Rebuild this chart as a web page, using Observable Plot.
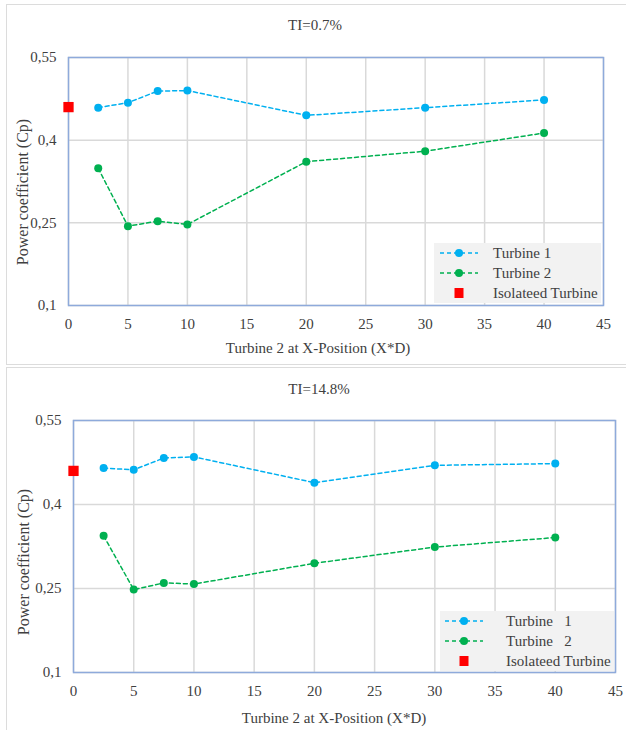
<!DOCTYPE html>
<html>
<head>
<meta charset="utf-8">
<script src="https://cdn.jsdelivr.net/npm/d3@7"></script>
<script src="https://cdn.jsdelivr.net/npm/@observablehq/plot@0.6"></script>
<style>
  html, body { margin: 0; padding: 0; background: #fff; overflow: hidden; }
  #root { position: relative; width: 626px; height: 730px; overflow: hidden; font-family: 'Liberation Serif', serif; color: #404040; }
  #root div, #root span, #root text, #root svg { font-family: 'Liberation Serif', serif; }
  .panel { position: absolute; border: 1.5px solid #dcdcdc; box-sizing: border-box; }
  .abs { position: absolute; white-space: pre; }
  .title { font-size: 15px; transform: translate(-50%, -50%); }
  .xlab { font-size: 15px; transform: translate(-50%, -50%); }
  .ylab { font-size: 16px; transform: translate(-50%, -50%) rotate(-90deg); }
  .legend { position: absolute; background: #f2f2f2; }
  .lrow { position: absolute; left: 0; height: 20px; width: 100%; font-size: 15px; }
  .lrow svg { position: absolute; left: 0; top: 0; }
  .lrow span { position: absolute; top: 50%; transform: translateY(-50%); white-space: pre; }
  svg { overflow: visible; }
</style>
</head>
<body>
<div id="root"></div>
<script>
// ---------- data ----------
const xPositions = [2.5, 5, 7.5, 10, 20, 30, 40];
const turbine1_TI07 = [0.459, 0.468, 0.489, 0.490, 0.445, 0.459, 0.473];
const turbine2_TI07 = [0.349, 0.244, 0.253, 0.247, 0.361, 0.380, 0.413];
const isolated_TI07 = 0.460;
const turbine1_TI148 = [0.465, 0.462, 0.483, 0.485, 0.439, 0.470, 0.473];
const turbine2_TI148 = [0.344, 0.248, 0.260, 0.258, 0.295, 0.324, 0.341];
const isolated_TI148 = 0.460;
const xTicks = [0, 5, 10, 15, 20, 25, 30, 35, 40, 45];
const yTicks = [0.1, 0.25, 0.4, 0.55];
const yTickLabels = ["0,1", "0,25", "0,4", "0,55"];
const titles = ["TI=0.7%", "TI=14.8%"];
const legendLabels = [["Turbine 1", "Turbine 2", "Isolateed Turbine"], ["Turbine   1", "Turbine   2", "Isolateed Turbine"]];
const xTitle = "Turbine 2 at X-Position (X*D)";
const yTitle = "Power coefficient (Cp)";

const BLUE = "#00b0f0", GREEN = "#00b050", RED = "#ff0000";
const FONT = "'Liberation Serif', serif";
const root = document.getElementById("root");

function el(tag, cls, style, text) {
  const e = document.createElement(tag);
  if (cls) e.className = cls;
  Object.assign(e.style, style || {});
  e.style.fontFamily = FONT;
  if (text != null) e.textContent = text;
  return e;
}

function panel(cfg) {
  const wrap = el("div", null, {position: "absolute", left: "0px", top: cfg.top + "px", width: "626px", height: cfg.h + "px"});
  root.appendChild(wrap);
  wrap.appendChild(el("div", "panel", {left: cfg.border.left + "px", top: cfg.border.top + "px", width: cfg.border.w + "px", height: cfg.border.h + "px"}));

  const t1 = xPositions.map((x, i) => ({x, y: cfg.t1[i]}));
  const t2 = xPositions.map((x, i) => ({x, y: cfg.t2[i]}));
  const iso = [{x: 0, y: cfg.iso}];

  const chart = Plot.plot({
    width: 626,
    height: cfg.h,
    marginLeft: cfg.ml, marginRight: cfg.mr, marginTop: cfg.mt, marginBottom: cfg.mb,
    style: {fontFamily: FONT, fontSize: "15px", color: "#404040", background: "transparent", overflow: "visible"},
    x: {domain: [0, 45]},
    y: {domain: [0.1, 0.55]},
    marks: [
      Plot.gridX(xTicks, {stroke: "#d9d9d9", strokeOpacity: 1, strokeWidth: 1.5}),
      Plot.gridY(yTicks, {stroke: "#d9d9d9", strokeOpacity: 1, strokeWidth: 1.5}),
      Plot.frame({stroke: "#8eaadb", strokeWidth: 1.5}),
      Plot.axisX(xTicks, {tickSize: 0, tickPadding: 13, label: null, fontSize: 15}),
      Plot.axisY(yTicks, {tickSize: 0, tickPadding: 12, label: null, fontSize: 15, tickFormat: d => yTickLabels[yTicks.indexOf(d)]}),
      Plot.line(t1, {x: "x", y: "y", stroke: BLUE, strokeWidth: 1.5, strokeDasharray: "4,3"}),
      Plot.dot(t1, {x: "x", y: "y", r: 4, fill: BLUE}),
      Plot.line(t2, {x: "x", y: "y", stroke: GREEN, strokeWidth: 1.5, strokeDasharray: "4,3"}),
      Plot.dot(t2, {x: "x", y: "y", r: 4, fill: GREEN}),
      Plot.dot(iso, {x: "x", y: "y", symbol: "square", r: 5.8, fill: RED})
    ]
  });
  chart.style.position = "absolute";
  chart.style.left = "0px";
  chart.style.top = "0px";
  chart.style.fontFamily = FONT;
  chart.querySelectorAll("text").forEach(t => t.setAttribute("font-family", "Liberation Serif"));
  wrap.appendChild(chart);

  wrap.appendChild(el("div", "abs title", {left: cfg.titleX + "px", top: cfg.titleY + "px"}, cfg.title));
  wrap.appendChild(el("div", "abs xlab", {left: cfg.xlabX + "px", top: cfg.xlabY + "px"}, xTitle));
  wrap.appendChild(el("div", "abs ylab", {left: cfg.ylabX + "px", top: cfg.ylabY + "px"}, yTitle));

  const lg = el("div", "legend", {left: cfg.lg.x + "px", top: cfg.lg.y + "px", width: cfg.lg.w + "px", height: cfg.lg.h + "px"});
  const colors = [BLUE, GREEN, RED];
  cfg.legend.forEach((lab, i) => {
    const row = el("div", "lrow", {top: (i * 20) + "px"});
    const ns = "http://www.w3.org/2000/svg";
    const s = document.createElementNS(ns, "svg");
    s.setAttribute("width", "50"); s.setAttribute("height", "20");
    const cx = cfg.lg.sym + 19;
    if (i < 2) {
      const ln = document.createElementNS(ns, "line");
      ln.setAttribute("x1", cfg.lg.sym); ln.setAttribute("x2", cfg.lg.sym + 38);
      ln.setAttribute("y1", 10); ln.setAttribute("y2", 10);
      ln.setAttribute("stroke", colors[i]); ln.setAttribute("stroke-width", 1.5);
      ln.setAttribute("stroke-dasharray", "4,3");
      s.appendChild(ln);
      const c = document.createElementNS(ns, "circle");
      c.setAttribute("cx", cx); c.setAttribute("cy", 10); c.setAttribute("r", 4);
      c.setAttribute("fill", colors[i]);
      s.appendChild(c);
    } else {
      const r = document.createElementNS(ns, "rect");
      r.setAttribute("x", cx - 4.5); r.setAttribute("y", 5); r.setAttribute("width", 9); r.setAttribute("height", 10);
      r.setAttribute("fill", RED);
      s.appendChild(r);
    }
    row.appendChild(s);
    row.appendChild(el("span", null, {left: cfg.lg.text + "px"}, lab));
    lg.appendChild(row);
  });
  wrap.appendChild(lg);
}

panel({
  top: 0, h: 363,
  border: {left: 6, top: 4, w: 640, h: 361},
  ml: 68, mr: 23, mt: 57, mb: 58,
  t1: turbine1_TI07, t2: turbine2_TI07, iso: isolated_TI07,
  title: titles[0], titleX: 315, titleY: 25,
  xlabX: 318, xlabY: 348,
  ylabX: 23, ylabY: 192,
  legend: legendLabels[0],
  lg: {x: 434, y: 243, w: 167, h: 60, sym: 6, text: 59}
});

panel({
  top: 365, h: 365,
  border: {left: 6, top: 2, w: 640, h: 380},
  ml: 73, mr: 11, mt: 55, mb: 58,
  t1: turbine1_TI148, t2: turbine2_TI148, iso: isolated_TI148,
  title: titles[1], titleX: 319, titleY: 24,
  xlabX: 334, xlabY: 353,
  ylabX: 24, ylabY: 197,
  legend: legendLabels[1],
  lg: {x: 440, y: 246, w: 174, h: 60, sym: 5, text: 66}
});
</script>
</body>
</html>
